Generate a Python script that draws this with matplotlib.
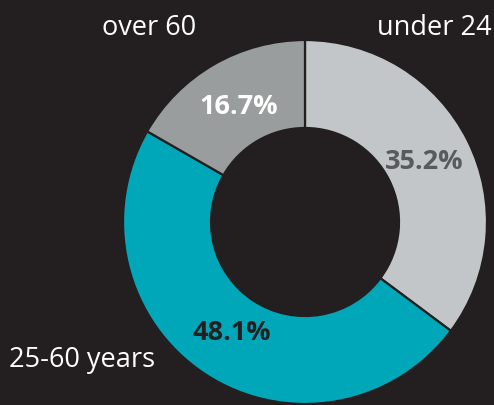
import matplotlib.pyplot as plt

categories = ["under 24", "25-60 years", "over 60"]
shares = [35.2, 48.1, 16.7]
colors = ["#c3c6c8", "#00a7b9", "#9a9d9e"]
pct_colors = ["#575b5d", "#231f20", "#ffffff"]

BG = "#231f20"

plt.rcParams['font.family'] = ['Open Sans', 'DejaVu Sans']

fig = plt.figure(figsize=(4.94, 4.05), dpi=100, facecolor=BG)
ax = fig.add_axes([0, 0, 1, 1])
ax.set_facecolor(BG)

wedges, _, autotexts = ax.pie(
    shares, colors=colors, startangle=90, counterclock=False,
    center=(305, 183), radius=182, pctdistance=0.73,
    autopct=lambda p: f"{p:.1f}%",
    wedgeprops=dict(width=88, edgecolor=BG, linewidth=1.6),
)
for t, c in zip(autotexts, pct_colors):
    t.set_color(c)
    t.set_fontsize(19.5)
    t.set_fontweight("bold")

# outside labels
label_pos = {"under 24": (434, 377), "25-60 years": (82, 45), "over 60": (149, 377)}
for name in categories:
    x, y = label_pos[name]
    ax.text(x, y, name, color="white", fontsize=19.5, ha="center", va="center")

ax.set_xlim(0, 494)
ax.set_ylim(0, 405)
ax.set_aspect("equal")
ax.axis("off")

fig.savefig("out.png", dpi=100, facecolor=BG)
